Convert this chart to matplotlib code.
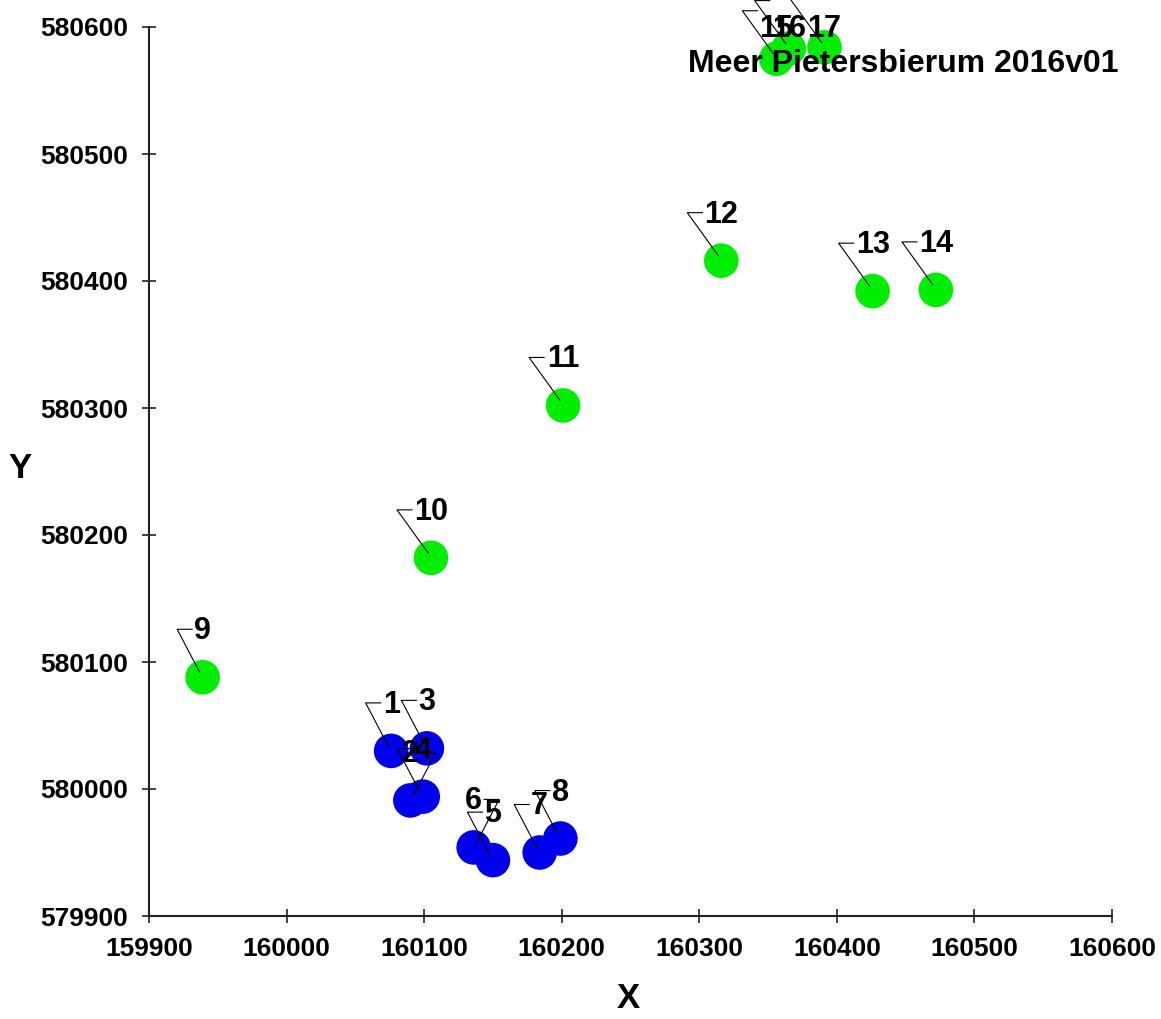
import matplotlib
matplotlib.use("Agg")
import matplotlib.pyplot as plt
from matplotlib.lines import Line2D
from matplotlib.transforms import Affine2D, ScaledTranslation

plt.rcParams['font.family'] = ['Liberation Sans', 'DejaVu Sans']
plt.rcParams['font.weight'] = 'bold'

# ---- data ----
point_ids = [str(i) for i in range(1, 18)]
x_vals = [160076, 160090, 160102, 160099, 160150, 160136, 160184, 160199,
          159939, 160105, 160201, 160316, 160426, 160472, 160356, 160365, 160391]
y_vals = [580030, 579991, 580032, 579994, 579944, 579954, 579950, 579961,
          580088, 580182, 580302, 580416, 580392, 580393, 580575, 580583, 580584]
groups = ['A'] * 8 + ['B'] * 9
x_ticks = [159900, 160000, 160100, 160200, 160300, 160400, 160500, 160600]
y_ticks = [579900, 580000, 580100, 580200, 580300, 580400, 580500, 580600]
title = "Meer Pietersbierum 2016v01"

# ---- style ----
group_colors = {'A': '#0000ee', 'B': '#00ee00'}
mirror_labels = {'2', '6'}   # leader drawn to the right side

W, H = 1161, 1019
fig = plt.figure(figsize=(W / 100, H / 100), dpi=100)
ax = fig.add_axes([149 / W, (H - 916) / H, 963 / W, 889 / H])

ax.set_xlim(x_ticks[0], x_ticks[-1])
ax.set_ylim(y_ticks[0], y_ticks[-1])
ax.set_xticks(x_ticks)
ax.set_yticks(y_ticks)
ax.set_xticklabels([str(v) for v in x_ticks])
ax.set_yticklabels([str(v) for v in y_ticks])
for s in ['top', 'right']:
    ax.spines[s].set_visible(False)
for s in ['left', 'bottom']:
    ax.spines[s].set_linewidth(1.5)
    ax.spines[s].set_color('#222222')
    ax.spines[s].set_zorder(1)
ax.tick_params(direction='inout', length=10, width=1.2, color='#222222',
               labelsize=19, pad=10)
for lab in ax.get_xticklabels() + ax.get_yticklabels():
    lab.set_fontweight('bold')

colors = [group_colors[g] for g in groups]
ax.scatter(x_vals, y_vals, s=620, c=colors, edgecolors='none', zorder=3,
           clip_on=False)

scale = fig.dpi / 100.0
label_fs = 22
for lbl, x, y in zip(point_ids, x_vals, y_vals):
    disp = ax.transData.transform((x, y))
    img_y = H - disp[1]
    baseline = img_y - 38
    if baseline < 37:
        baseline = 37
    dy_text = img_y - baseline
    half = len(lbl) * 8.5
    side = 1 if lbl in mirror_labels else -1
    cx = side * (half + 17)
    ex = cx - side * 15
    pts = [(ex, -48), (cx, -48), (side * 3, -5)]
    xs = [p[0] for p in pts]
    ys = [-p[1] for p in pts]
    tr = Affine2D().scale(scale) + ScaledTranslation(x, y, ax.transData)
    ln = Line2D(xs, ys, transform=tr, color='black', lw=0.8, zorder=4,
                clip_on=False)
    ax.add_line(ln)
    ax.annotate(lbl, (x, y), xytext=(0, dy_text * scale),
                textcoords='offset pixels', ha='center', va='baseline',
                fontsize=label_fs, fontweight='bold', color='black',
                zorder=5, annotation_clip=False)

fig.text(1119 / W, 1 - 72 / H, title, ha='right', va='baseline',
         fontsize=23, fontweight='bold', color='black', zorder=10)
fig.text(628 / W, 1 - 998 / H, 'X', ha='center', va='center',
         fontsize=25, fontweight='bold')
fig.text(20 / W, 1 - 468 / H, 'Y', ha='center', va='center',
         fontsize=25, fontweight='bold')

fig.savefig('out.png', dpi=100)
